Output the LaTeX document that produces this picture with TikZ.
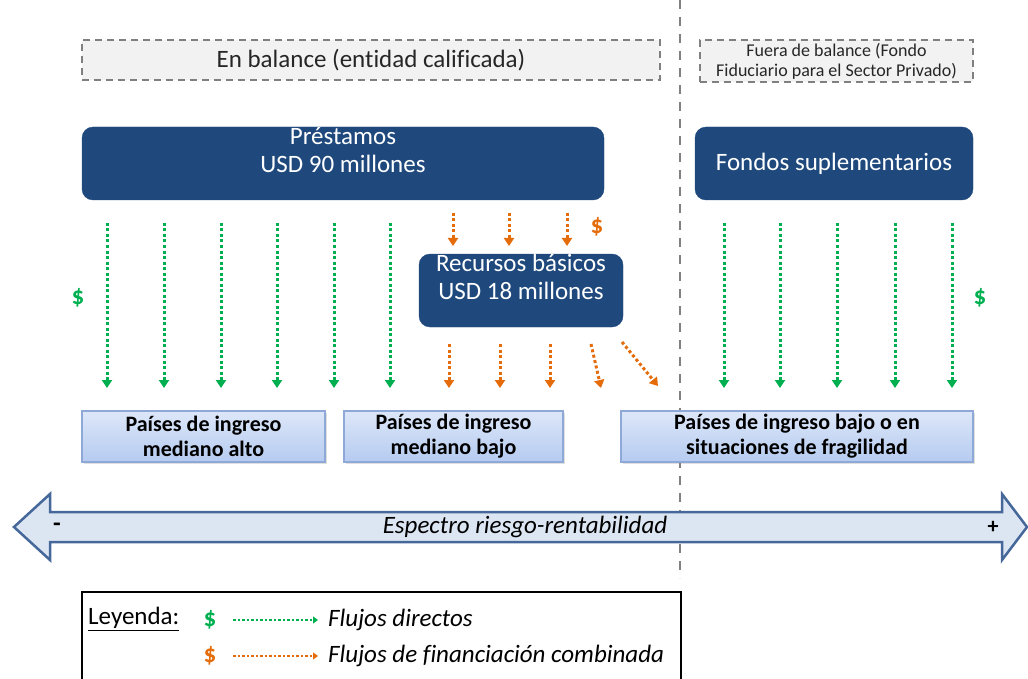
\documentclass[tikz,border=0pt]{standalone}
\usepackage{fontspec}
\setmainfont{Carlito}[Ligatures=CommonOff]
\usetikzlibrary{arrows.meta,shadows}
\definecolor{boxblue}{HTML}{1F497D}
\definecolor{flowgreen}{HTML}{00B050}
\definecolor{floworange}{HTML}{E46C0A}
\definecolor{cboxtop}{HTML}{DDE7F9}
\definecolor{cboxbot}{HTML}{B5CBF0}
\definecolor{cboxline}{HTML}{8EA9D8}
\definecolor{specfill}{HTML}{DCE6F2}
\definecolor{specline}{HTML}{46679A}
\definecolor{dashfill}{HTML}{F2F2F2}
\begin{document}
\begin{tikzpicture}[x=1pt,y=-1pt]
                \tikzstyle{every node}+=[inner sep=0pt]
                \tikzstyle{sheetbox}=[draw=gray, fill=dashfill, line width=2.5pt, dash pattern=on 7pt off 5pt]
                \tikzstyle{darkbox}=[draw=boxblue, fill=boxblue, rounded corners=11pt, text=white, align=center, font=\fontsize{25}{27.5}\selectfont]
                \tikzstyle{countrybox}=[draw=cboxline, line width=1.2pt, top color=cboxtop, bottom color=cboxbot, align=center, font=\fontsize{22}{25}\selectfont\bfseries, drop shadow={shadow xshift=2pt, shadow yshift=-2pt, opacity=0.25}]
                \tikzstyle{greenflow}=[draw=flowgreen, line width=3pt, dash pattern=on 3pt off 2.5pt, -{Triangle[width=10pt,length=8pt]}]
                \tikzstyle{orangeflow}=[draw=floworange, line width=3pt, dash pattern=on 3pt off 2.5pt, -{Triangle[width=10pt,length=8pt]}]
                \tikzstyle{keyflow}=[line width=2.2pt, dash pattern=on 2.5pt off 2pt, -{Triangle[width=7pt,length=5pt]}]
                \tikzstyle{bigtext}=[font=\fontsize{25}{30}\selectfont]
                \tikzstyle{dollar}=[font=\fontsize{25}{30}\selectfont\bfseries]
                \useasboundingbox (0,0) rectangle (1028,679);
                % dividing line
                \coordinate (divtop) at (680,0);
                \coordinate (divbot) at (680,578);
                \draw [gray, line width=2.5pt, dash pattern=on 9pt off 8pt] (divtop) -- (divbot);
                % headers
                \node [sheetbox, minimum width=578pt, minimum height=40pt, bigtext, text=black!85] (onsheet) at (371,60) {En balance (entidad calificada)};
                \node [sheetbox, minimum width=273pt, minimum height=42pt, align=center, font=\fontsize{18}{20}\selectfont, text=black!85] (offsheet) at (836.5,61) {Fuera de balance (Fondo\\Fiduciario para el Sector Privado)};
                % funds
                \node [darkbox, minimum width=522pt, minimum height=73pt] (loans) at (343,163.5) {Préstamos\\USD 90 millones\\\mbox{}};
                \node [darkbox, minimum width=278pt, minimum height=73pt] (suppl) at (834,163.5) {Fondos suplementarios};
                \node [darkbox, minimum width=204pt, minimum height=73pt] (core) at (521,290.5) {Recursos básicos\\USD 18 millones\\\mbox{}};
                % countries
                \node [countrybox, minimum width=243pt, minimum height=51pt] (upper) at (203.5,436.5) {Países de ingreso\\mediano alto};
                \node [countrybox, minimum width=219pt, minimum height=51pt] (lower) at (453.5,436.5) {Países de ingreso\\mediano bajo};
                \node [countrybox, minimum width=352pt, minimum height=51pt] (fragile) at (797,436.5) {Países de ingreso bajo o en\\situaciones de fragilidad};
                % green flows
                \coordinate (ga1) at (107,223); \coordinate (gb1) at (107,388);
                \coordinate (ga2) at (164,223); \coordinate (gb2) at (164,388);
                \coordinate (ga3) at (221,223); \coordinate (gb3) at (221,388);
                \coordinate (ga4) at (277,223); \coordinate (gb4) at (277,388);
                \coordinate (ga5) at (334,223); \coordinate (gb5) at (334,388);
                \coordinate (ga6) at (390,223); \coordinate (gb6) at (390,388);
                \coordinate (ga7) at (724,223); \coordinate (gb7) at (724,388);
                \coordinate (ga8) at (780,223); \coordinate (gb8) at (780,388);
                \coordinate (ga9) at (837,223); \coordinate (gb9) at (837,388);
                \coordinate (ga10) at (895,223); \coordinate (gb10) at (895,388);
                \coordinate (ga11) at (952,223); \coordinate (gb11) at (952,388);
                \draw [greenflow] (ga1) -- (gb1);
                \draw [greenflow] (ga2) -- (gb2);
                \draw [greenflow] (ga3) -- (gb3);
                \draw [greenflow] (ga4) -- (gb4);
                \draw [greenflow] (ga5) -- (gb5);
                \draw [greenflow] (ga6) -- (gb6);
                \draw [greenflow] (ga7) -- (gb7);
                \draw [greenflow] (ga8) -- (gb8);
                \draw [greenflow] (ga9) -- (gb9);
                \draw [greenflow] (ga10) -- (gb10);
                \draw [greenflow] (ga11) -- (gb11);
                \node [dollar, text=flowgreen] (dollarl) at (78,298) {\$};
                \node [dollar, text=flowgreen] (dollarr) at (980,298) {\$};
                % orange flows
                \coordinate (oa1) at (453,213); \coordinate (ob1) at (453,246);
                \coordinate (oa2) at (509,213); \coordinate (ob2) at (509,246);
                \coordinate (oa3) at (567,213); \coordinate (ob3) at (567,246);
                \draw [orangeflow] (oa1) -- (ob1);
                \draw [orangeflow] (oa2) -- (ob2);
                \draw [orangeflow] (oa3) -- (ob3);
                \node [dollar, text=floworange] (dollaro) at (597,227) {\$};
                \coordinate (oc1) at (449,344); \coordinate (od1) at (449,388);
                \coordinate (oc2) at (500,344); \coordinate (od2) at (500,388);
                \coordinate (oc3) at (550,344); \coordinate (od3) at (550,388);
                \coordinate (oc4) at (591,344); \coordinate (od4) at (601,388);
                \coordinate (oc5) at (622,342); \coordinate (od5) at (658,386);
                \draw [orangeflow] (oc1) -- (od1);
                \draw [orangeflow] (oc2) -- (od2);
                \draw [orangeflow] (oc3) -- (od3);
                \draw [orangeflow] (oc4) -- (od4);
                \draw [orangeflow] (oc5) -- (od5);
                % spectrum
                \draw [specline, fill=specfill, line width=2.5pt, line join=miter] (14,527) -- (50,494) -- (50,512) -- (1002,512) -- (1002,494) -- (1027,527) -- (1002,560) -- (1002,542) -- (50,542) -- (50,560) -- cycle;
                \node [bigtext, font=\fontsize{25}{30}\selectfont\bfseries] (minus) at (57,527) {-};
                \node [bigtext, font=\fontsize{22}{30}\selectfont\bfseries] (plus) at (993,527) {+};
                \node [bigtext, font=\fontsize{25}{30}\selectfont\itshape] (spectrum) at (525,527) {Espectro riesgo-rentabilidad};
                % legend
                \draw [black, line width=1.2pt] (82,700) -- (82,592) -- (681,592) -- (681,700);
                \node [bigtext, anchor=west] (keytitle) at (88,619) {\underline{Leyenda:}};
                \node [dollar, text=flowgreen] (keyg) at (210,620) {\$};
                \node [dollar, text=floworange] (keyo) at (210,656) {\$};
                \coordinate (kga) at (233,620); \coordinate (kgb) at (318,620);
                \coordinate (koa) at (233,656); \coordinate (kob) at (318,656);
                \draw [keyflow, draw=flowgreen] (kga) -- (kgb);
                \draw [keyflow, draw=floworange] (koa) -- (kob);
                \node [bigtext, anchor=west, font=\fontsize{25}{30}\selectfont\itshape] (keydirect) at (328,620) {Flujos directos};
                \node [bigtext, anchor=west, font=\fontsize{25}{30}\selectfont\itshape] (keyblend) at (328,656) {Flujos de financiación combinada};
            \end{tikzpicture}
\end{document}
